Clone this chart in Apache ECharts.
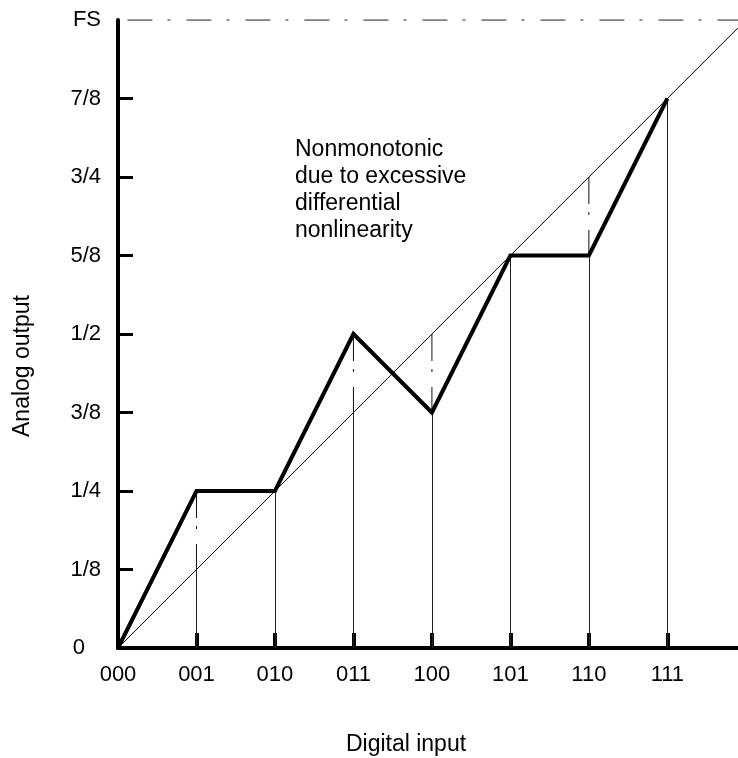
<!DOCTYPE html>
<html>
<head>
<meta charset="utf-8">
<script src="https://cdn.jsdelivr.net/npm/echarts/dist/echarts.min.js"></script>
<style>
  html, body { margin: 0; padding: 0; background: #fff; }
  #chart { width: 738px; height: 758px; }
</style>
</head>
<body>
<div id="chart"></div>
<script>
// digital codes on the x axis (index = code value)
const codes = ['000', '001', '010', '011', '100', '101', '110', '111'];
// y axis labels, in eighths of full scale
const yTickLabels = ['0', '1/8', '1/4', '3/8', '1/2', '5/8', '3/4', '7/8', 'FS'];
// actual DAC output per code, in eighths of FS
const actualOutput = [0, 2, 2, 4, 3, 5, 5, 7];
// ideal output per code, in eighths of FS
const idealOutput = [0, 1, 2, 3, 4, 5, 6, 7];
// ideal transfer line runs past the last code up to here
const idealLineEnd = 7.9;
const fsLevel = 8;
const fsLineStart = 0.12;

const font = 'Liberation Sans, Arial, sans-serif';

const chart = echarts.init(document.getElementById('chart'), null, { renderer: 'canvas' });

// drop lines: solid up to the lower of actual / ideal, dash-dot for the gap
const solidDrops = [];
const gapSeries = [];
for (let i = 1; i < codes.length; i++) {
  const lo = Math.min(actualOutput[i], idealOutput[i]);
  const hi = Math.max(actualOutput[i], idealOutput[i]);
  solidDrops.push({ coords: [[i, 0], [i, lo]] });
  if (hi > lo) {
    gapSeries.push({
      type: 'line',
      symbol: 'none',
      silent: true,
      z: 1,
      lineStyle: { color: '#111', width: 1, type: [27, 8, 3, 15] },
      data: [[i, hi], [i, lo]],
    });
  }
}

const tickIdx = idealOutput.slice(1);

chart.setOption({
  animation: false,
  grid: { left: 118, right: 0, top: 20, bottom: 110, containLabel: false },
  xAxis: {
    type: 'value',
    min: 0,
    max: idealLineEnd,
    interval: 1,
    splitLine: { show: false },
    axisLine: { lineStyle: { color: '#000', width: 4 } },
    axisTick: {
      inside: true,
      length: 15,
      customValues: tickIdx,
      lineStyle: { color: '#000', width: 4 },
    },
    axisLabel: {
      customValues: idealOutput,
      formatter: (v) => codes[v] ?? '',
      margin: 16,
      fontSize: 22,
      color: '#000',
      fontFamily: font,
    },
  },
  yAxis: {
    type: 'value',
    min: 0,
    max: fsLevel,
    interval: 1,
    splitLine: { show: false },
    axisLine: { lineStyle: { color: '#000', width: 4 } },
    axisTick: {
      inside: true,
      length: 15,
      customValues: tickIdx,
      lineStyle: { color: '#000', width: 3 },
    },
    axisLabel: {
      customValues: yTickLabels.map((_, i) => i),
      formatter: (v) => (v === 0 ? '{z|0}' : yTickLabels[v] ?? ''),
      margin: 17,
      fontSize: 22,
      color: '#000',
      fontFamily: font,
      rich: {
        z: { fontSize: 22, color: '#000', fontFamily: font, padding: [0, 16, 0, 0] },
      },
    },
  },
  series: [
    {
      type: 'lines',
      coordinateSystem: 'cartesian2d',
      silent: true,
      z: 1,
      lineStyle: { color: '#222', width: 1, opacity: 1 },
      data: solidDrops,
    },
    ...gapSeries,
    {
      type: 'line',
      symbol: 'none',
      silent: true,
      z: 1,
      lineStyle: { color: '#555', width: 1.5, type: [25, 15, 3, 16] },
      data: [[fsLineStart, fsLevel], [idealLineEnd, fsLevel]],
    },
    {
      // ideal transfer line
      type: 'line',
      symbol: 'none',
      silent: true,
      z: 2,
      lineStyle: { color: '#000', width: 1 },
      data: [[0, 0], [idealLineEnd, idealLineEnd]],
    },
    {
      // actual (nonmonotonic) transfer curve
      type: 'line',
      symbol: 'none',
      silent: true,
      z: 3,
      lineStyle: { color: '#000', width: 4, join: 'miter' },
      data: actualOutput.map((v, i) => [i, v]),
    },
  ],
  graphic: [
    {
      type: 'text',
      left: 295,
      top: 136,
      style: {
        text: 'Nonmonotonic\ndue to excessive\ndifferential\nnonlinearity',
        font: '23px ' + font,
        lineHeight: 27,
        fill: '#000',
      },
    },
    {
      type: 'text',
      x: 406,
      y: 745,
      style: {
        text: 'Digital input',
        font: '23px ' + font,
        fill: '#000',
        align: 'center',
        verticalAlign: 'middle',
      },
    },
    {
      type: 'text',
      x: 23,
      y: 366,
      rotation: Math.PI / 2,
      style: {
        text: 'Analog output',
        font: '23px ' + font,
        fill: '#000',
        align: 'center',
        verticalAlign: 'middle',
      },
    },
  ],
});
</script>
</body>
</html>
